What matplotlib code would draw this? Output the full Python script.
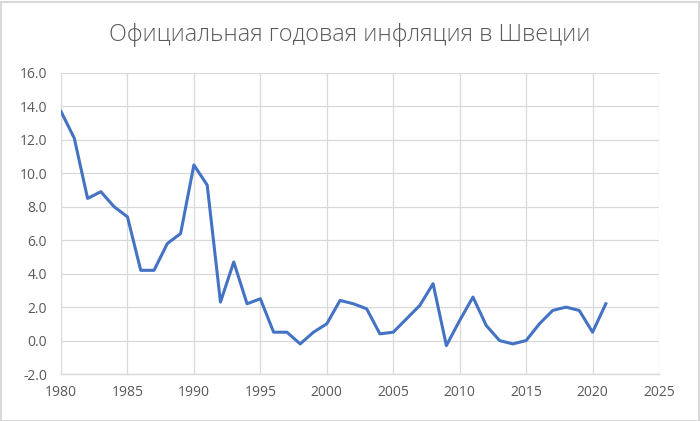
import matplotlib
matplotlib.use("Agg")
import matplotlib.pyplot as plt
from matplotlib.patches import Rectangle

# годы и инфляция (%)
years = list(range(1980, 2022))
inflation = [13.7, 12.1, 8.5, 8.9, 8.0, 7.4, 4.2, 4.2, 5.8, 6.4,
             10.5, 9.3, 2.3, 4.7, 2.2, 2.5, 0.5, 0.5, -0.2, 0.5,
             1.0, 2.4, 2.2, 1.9, 0.4, 0.5, 1.3, 2.1, 3.4, -0.3,
             1.2, 2.6, 0.9, 0.0, -0.2, 0.0, 1.0, 1.8, 2.0, 1.8,
             0.5, 2.2]
x_ticks = [1980, 1985, 1990, 1995, 2000, 2005, 2010, 2015, 2020, 2025]
y_ticks = [-2, 0, 2, 4, 6, 8, 10, 12, 14, 16]
title = "Официальная годовая инфляция в Швеции"

plt.rcParams['font.family'] = ['Open Sans', 'DejaVu Sans']

fig = plt.figure(figsize=(7, 4.21), dpi=100)
ax = fig.add_axes([61/700, 47/421, 598/700, 301/421])

grey = '#595959'
grid = '#d9d9d9'

ax.plot(years, inflation, color='#4472C4', linewidth=2.2, solid_joinstyle='round')

ax.set_xlim(1980, 2025)
ax.set_ylim(-2, 16)
ax.set_xticks(x_ticks)
ax.set_yticks(y_ticks)
ax.set_yticklabels(["%.1f" % v for v in y_ticks])
ax.grid(True, color=grid, linewidth=0.9)
ax.set_axisbelow(True)
for s in ['top', 'right', 'left']:
    ax.spines[s].set_visible(False)
ax.spines['bottom'].set_color(grid)
ax.spines['bottom'].set_linewidth(1.0)
ax.tick_params(length=0, labelsize=10, labelcolor=grey, pad=8)
ax.tick_params(axis='y', pad=10)

fig.text(0.5, 0.917, title, ha='center', va='center', fontsize=16.8,
         color=grey, fontweight='light')

# рамка вокруг всей диаграммы
fig.patches.append(Rectangle((0.5/700, 0.5/421), 698/700, 419/421, transform=fig.transFigure,
                             fill=False, edgecolor=grid, linewidth=1.5))

fig.savefig("out.png", dpi=100)
